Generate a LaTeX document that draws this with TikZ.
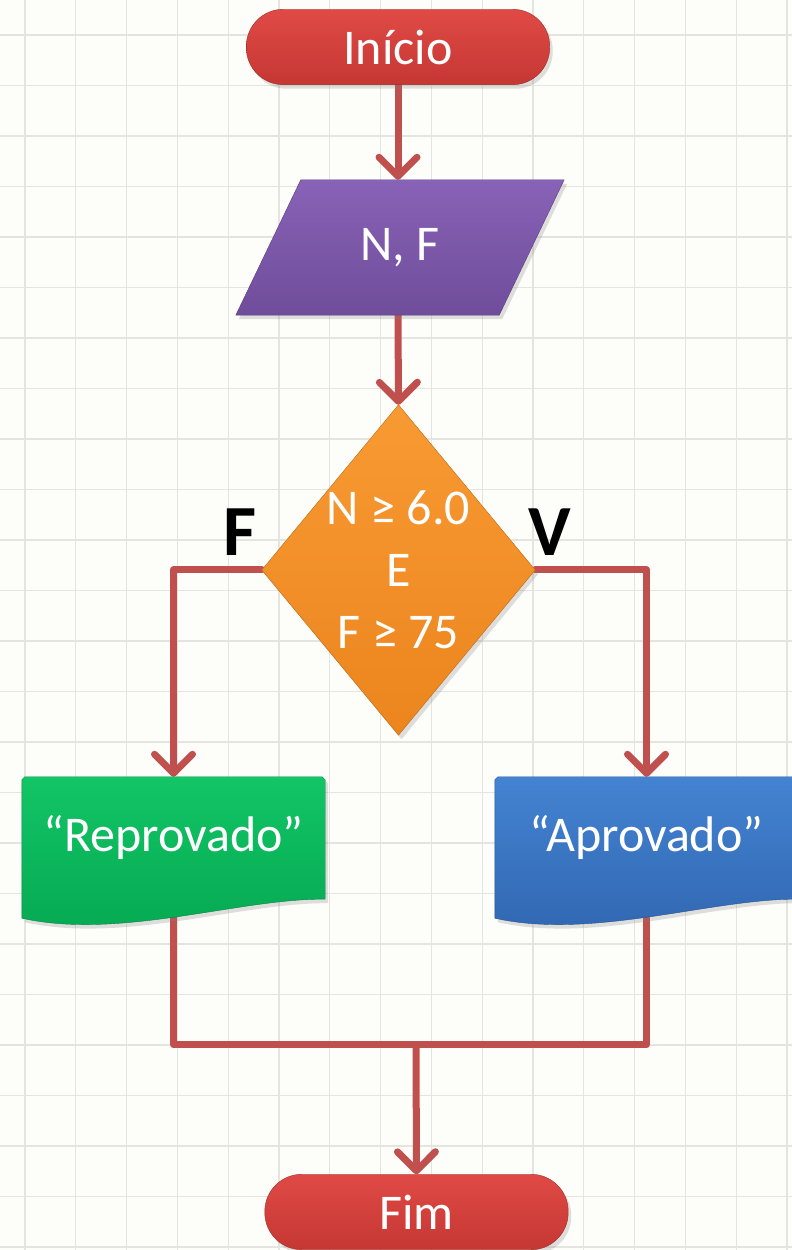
\documentclass[tikz,border=0pt]{standalone}
\usepackage{fontspec}
\setmainfont{Carlito}
\usetikzlibrary{arrows.meta,calc,backgrounds,shadows}

\definecolor{paper}{HTML}{FDFDFA}
\definecolor{gridgray}{HTML}{E4E4E0}
\definecolor{lineRed}{HTML}{C0504D}
\definecolor{redTop}{HTML}{E04A46}
\definecolor{redBot}{HTML}{C53733}
\definecolor{purpleTop}{HTML}{8862B6}
\definecolor{purpleBot}{HTML}{704D9B}
\definecolor{orangeTop}{HTML}{F89A33}
\definecolor{orangeBot}{HTML}{EC851E}
\definecolor{greenTop}{HTML}{12C565}
\definecolor{greenBot}{HTML}{05A852}
\definecolor{blueTop}{HTML}{4483D2}
\definecolor{blueBot}{HTML}{3066B0}

\begin{document}
\begin{tikzpicture}[x=1pt,y=1pt,
    txt/.style={text=white,font=\fontsize{50}{62}\selectfont,inner sep=0pt},
    termbox/.style={txt,minimum width=303pt,minimum height=75pt},
    connector/.style={draw=lineRed,line width=7pt,line cap=round,line join=round},
    flowarrow/.style={connector,-{Straight Barb[length=19pt,width=38pt,round]}},
    shapeshadow/.style={drop shadow={opacity=0.25,shadow xshift=3pt,shadow yshift=-4pt}},
    vflabel/.style={font=\fontsize{72}{80}\selectfont\bfseries,inner sep=0pt}]

\useasboundingbox (0,0) rectangle (792,1250);

% nodes
\node[termbox] (inicio) at (398,1203) {Início};
\node[txt,minimum width=263pt,minimum height=135pt] (inp) at (400,1002.5) {N, F};
\node[txt,minimum width=273pt,minimum height=330pt,align=center] (dec) at (398.5,680)
    {N ≥ 6.0\\E\\F ≥ 75};
\node[vflabel] (lblF) at (240,718) {F};
\node[vflabel] (lblV) at (550,718) {V};
\node[txt,minimum width=303pt,minimum height=122pt] (rep) at (173.5,412) {“Reprovado”};
\node[txt,minimum width=303pt,minimum height=122pt] (apr) at (646.5,412) {“Aprovado”};
\coordinate (join) at (416,205);
\node[termbox] (fim) at (416.5,38) {Fim};

\begin{scope}[on background layer]
\fill[paper] (0,0) rectangle (792,1250);
\foreach \gx in {0,...,15}
    \draw[gridgray,line width=1.2pt] ({25+50.8*\gx},0) -- ++(0,1250);
\foreach \gy in {0,...,24}
    \draw[gridgray,line width=1.2pt] (0,{1215-50.5*\gy}) -- ++(792,0);

% connectors
\draw[flowarrow] (inicio.south) -- (inicio.south |- inp.north);
\draw[flowarrow] (inicio.south |- inp.south) -- (dec.north);
\draw[flowarrow] (dec.west) -| (rep.north);
\draw[flowarrow] (dec.east) -| (apr.north);
\draw[connector] (rep.south) |- (join) -| (apr.south);
\draw[flowarrow] (join) -- (fim.north);

% shapes
\shade[shapeshadow,top color=redTop,bottom color=redBot,draw=redBot!80!black,rounded corners=37pt]
    (inicio.south west) rectangle (inicio.north east);
\shade[shapeshadow,top color=redTop,bottom color=redBot,draw=redBot!80!black,rounded corners=37pt]
    (fim.south west) rectangle (fim.north east);

\shade[shapeshadow,top color=purpleTop,bottom color=purpleBot,draw=purpleBot!80!black]
    ($(inp.north west)+(32.5,0)$) -- ($(inp.north east)+(32.5,0)$)
    -- ($(inp.south east)+(-32.5,0)$) -- ($(inp.south west)+(-32.5,0)$) -- cycle;

\shade[shapeshadow,top color=orangeTop,bottom color=orangeBot,draw=orangeBot!80!black]
    (dec.north) -- (dec.east) -- (dec.south) -- (dec.west) -- cycle;

\foreach \doc/\ctop/\cbot in {rep/greenTop/greenBot,apr/blueTop/blueBot}
    \shade[shapeshadow,top color=\ctop,bottom color=\cbot,draw=\cbot!80!black]
        ($(\doc.north west)+(3,0)$) -- ($(\doc.north east)+(-3,0)$) -- ($(\doc.north east)+(0,-3)$)
        -- (\doc.south east)
        .. controls ($(\doc.south east)+(-85,1)$) and ($(\doc.south west)+(98,-41)$)
        .. ($(\doc.south west)+(0,-19)$)
        -- ($(\doc.north west)+(0,-3)$) -- cycle;
\end{scope}

\end{tikzpicture}
\end{document}
